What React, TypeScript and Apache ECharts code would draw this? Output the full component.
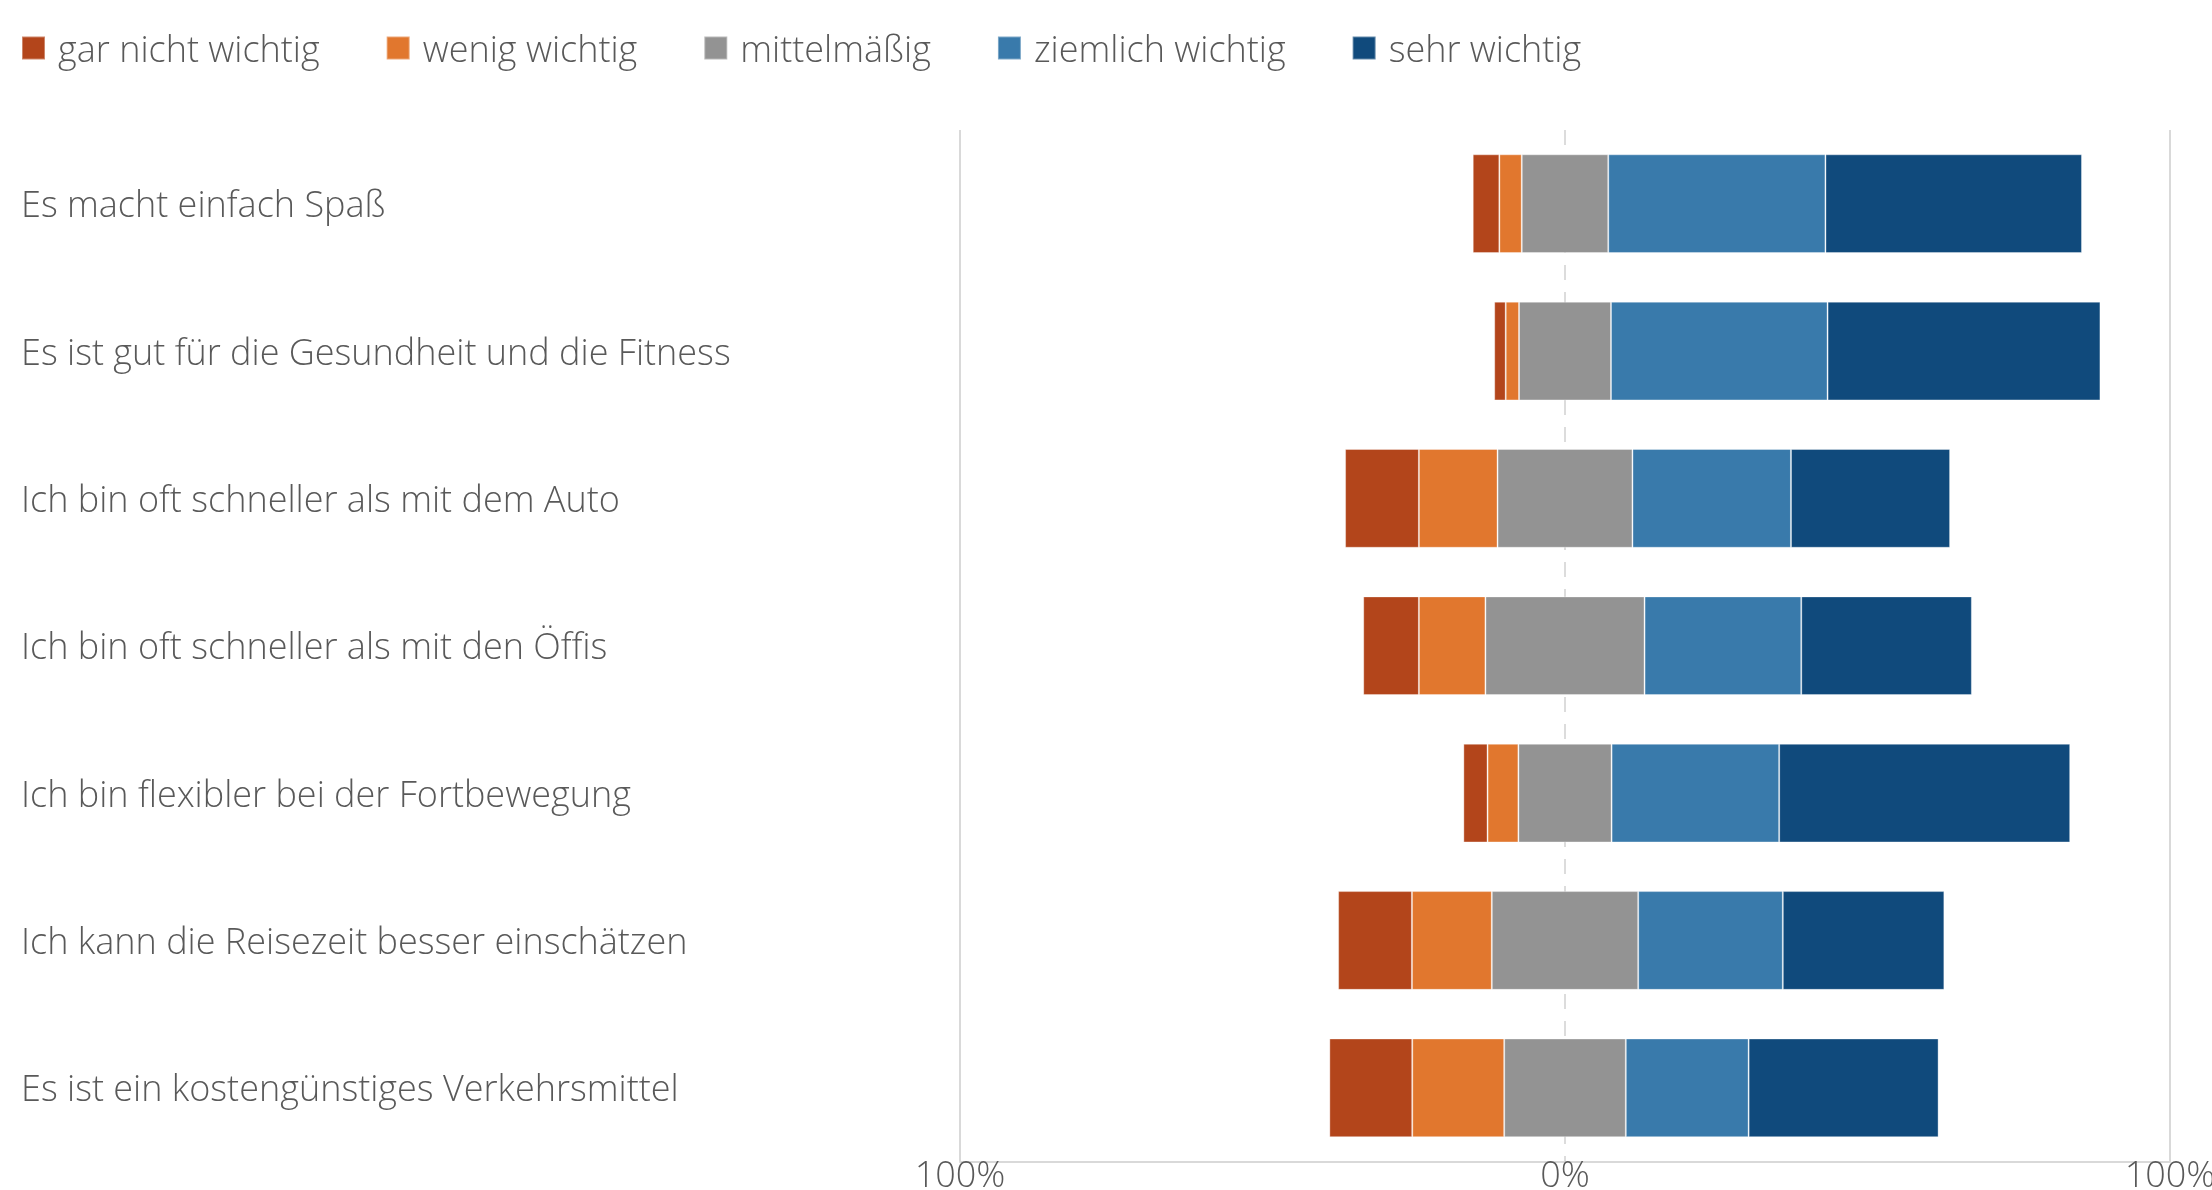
import React, { useEffect, useRef } from 'react';
import * as echarts from 'echarts';

const categories = [
  'Es macht einfach Spaß',
  'Es ist gut für die Gesundheit und die Fitness',
  'Ich bin oft schneller als mit dem Auto',
  'Ich bin oft schneller als mit den Öffis',
  'Ich bin flexibler bei der Fortbewegung',
  'Ich kann die Reisezeit besser einschätzen',
  'Es ist ein kostengünstiges Verkehrsmittel',
];

const garNichtWichtig = [4.4, 1.9, 12.2, 9.2, 4.0, 12.2, 13.7];
const wenigWichtig = [3.7, 2.2, 13.0, 11.0, 5.1, 13.2, 15.2];
const mittelmaessig = [14.3, 15.2, 22.3, 26.3, 15.4, 24.2, 20.1];
const ziemlichWichtig = [35.9, 35.8, 26.2, 25.9, 27.7, 23.9, 20.3];
const sehrWichtig = [42.4, 45.1, 26.3, 28.2, 48.1, 26.7, 31.4];

const seriesNames = ['gar nicht wichtig', 'wenig wichtig', 'mittelmäßig', 'ziemlich wichtig', 'sehr wichtig'];
const seriesColors = ['#B3451B', '#E1772E', '#939393', '#397AAB', '#104A7C'];

const axisMin = -100;
const axisMax = 100;
const axisStep = 100;
const tickLabels = ['100%', '0%', '100%'];

export default function App() {
  const ref = useRef<HTMLDivElement>(null);

  useEffect(() => {
    const chart = echarts.init(ref.current as HTMLDivElement, null, { renderer: 'svg' });
    const values = [garNichtWichtig, wenigWichtig, mittelmaessig, ziemlichWichtig, sehrWichtig];
    const offsets = categories.map((_, i) => -(garNichtWichtig[i] + wenigWichtig[i] + mittelmaessig[i] / 2));
    const font = '"Open Sans", "Noto Sans", sans-serif';
    const textColor = '#595959';
    const fs = 36;
    const fw = 300;

    const common = {
      type: 'bar',
      stack: 'likert',
      stackStrategy: 'all',
      barCategoryGap: '33%',
      xAxisIndex: 0,
      z: 3,
    };

    chart.setOption({
      animation: false,
      textStyle: { fontFamily: font },
      legend: {
        data: seriesNames,
        left: 21,
        top: 30,
        padding: 0,
        icon: 'rect',
        itemWidth: 23,
        itemHeight: 23,
        itemGap: 66,
        selectedMode: false,
        textStyle: { fontSize: fs, fontWeight: fw, color: textColor, fontFamily: font, padding: [0, 0, 0, 8] },
      },
      grid: { left: 960, right: 42, top: 130, bottom: 28.5, containLabel: false, outerBoundsMode: 'none' },
      xAxis: [
        {
          type: 'value',
          min: axisMin,
          max: axisMax,
          interval: axisStep,
          position: 'bottom',
          axisLine: { show: true, lineStyle: { color: '#d9d9d9', width: 2 } },
          axisTick: { show: false },
          axisLabel: {
            formatter: (v: number) => tickLabels[Math.round((v - axisMin) / axisStep)],
            fontSize: fs,
            fontWeight: fw,
            color: textColor,
            fontFamily: font,
            margin: -6,
            verticalAlign: 'top',
          },
          splitLine: { show: true, lineStyle: { color: ['#d9d9d9', 'rgba(0,0,0,0)'], width: 2 } },
        },
        {
          type: 'value',
          min: axisMin,
          max: axisMax,
          interval: axisStep,
          position: 'top',
          axisLine: { show: false },
          axisTick: { show: false },
          axisLabel: { show: false },
          splitLine: { show: true, lineStyle: { color: ['rgba(0,0,0,0)', '#dcdcdc'], width: 2, type: [15, 12] } },
        },
      ],
      yAxis: {
        type: 'category',
        inverse: true,
        data: categories,
        axisLine: { show: false },
        axisTick: { show: false },
        axisLabel: { align: 'left', margin: 939, fontSize: fs, fontWeight: fw, color: textColor, fontFamily: font },
      },
      series: [
        {
          ...common,
          name: '_offset',
          data: offsets,
          itemStyle: { color: 'rgba(0,0,0,0)' },
          silent: true,
          z: 1,
        },
        ...values.map((arr, k) => ({
          ...common,
          name: seriesNames[k],
          data: arr,
          itemStyle: { color: seriesColors[k], borderColor: 'rgba(255,255,255,0.35)', borderWidth: 1 },
        })),
      ],
    });

    return () => chart.dispose();
  }, []);

  return <div ref={ref} style={{ position: 'fixed', left: 0, top: 0, width: 2212, height: 1190 }} />;
}
